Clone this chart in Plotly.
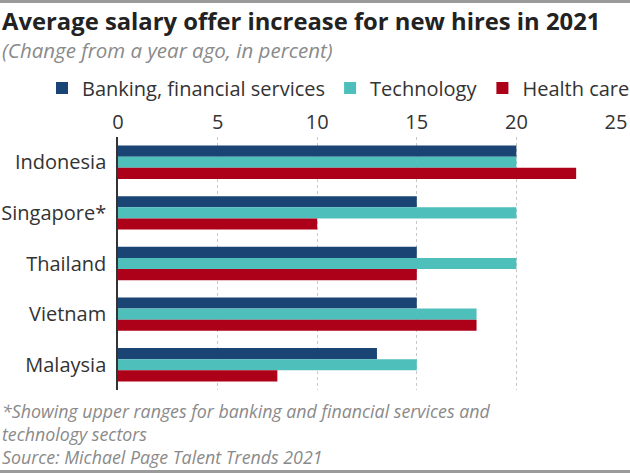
import plotly.graph_objects as go

countries = ["Indonesia", "Singapore*", "Thailand", "Vietnam", "Malaysia"]
banking = [20, 15, 15, 15, 13]
technology = [20, 20, 20, 18, 15]
health = [23, 10, 15, 18, 8]
series_names = ["Banking, financial services", "Technology", "Health care"]
colors = ["#1a4473", "#4ebfbb", "#ad0019"]
tick_vals = [0, 5, 10, 15, 20, 25]

W, H = 630, 473
L, R, T, B = 118, 14, 137, 83
PW, PH = W - L - R, H - T - B

def px(x):
    return (x - L) / PW

def py(y):
    return (H - B - y) / PH

FONT = "'Open Sans', sans-serif"

fig = go.Figure()
for name, vals, c in zip(series_names, [banking, technology, health], colors):
    fig.add_trace(go.Bar(y=countries, x=vals, name=name, orientation="h",
                         marker=dict(color=c, line=dict(width=0))))

fig.update_layout(
    width=W, height=H,
    margin=dict(l=L, r=R, t=T, b=B, autoexpand=False),
    paper_bgcolor="white", plot_bgcolor="white",
    barmode="group", bargap=0.34, bargroupgap=0,
    font=dict(family=FONT, color="#333"),
    showlegend=True,
    legend=dict(orientation="h", x=px(42), xanchor="left", y=py(88), yanchor="middle",
                font=dict(size=20, color="#333"), traceorder="normal",
                itemwidth=30, tracegroupgap=0, bgcolor="rgba(0,0,0,0)"),
    xaxis=dict(side="top", range=[0, 25.0], tickvals=tick_vals, showgrid=True,
               gridcolor="#c8c8c8", griddash="dot", gridwidth=1, zeroline=False,
               tickfont=dict(size=20, color="#333"), ticks="", ticklabelstandoff=3,
               showline=False, fixedrange=True),
    yaxis=dict(autorange="reversed", showline=True, linecolor="#333", linewidth=1.5,
               tickfont=dict(size=20, color="#333"), ticks="outside", ticklen=6,
               tickcolor="rgba(0,0,0,0)", showgrid=False, fixedrange=True),
)

fig.add_annotation(text="<b>Average salary offer increase for new hires in 2021</b>",
                   xref="paper", yref="paper", x=px(0), y=py(21), xanchor="left", yanchor="middle",
                   showarrow=False, font=dict(size=23.8, color="#222", family=FONT))
fig.add_annotation(text="<i>(Change from a year ago, in percent)</i>",
                   xref="paper", yref="paper", x=px(0), y=py(50), xanchor="left", yanchor="middle",
                   showarrow=False, font=dict(size=20.5, color="#8a8a8a", family=FONT))
footer_lines = ["*Showing upper ranges for banking and financial services and",
                "technology sectors",
                "Source: Michael Page Talent Trends 2021"]
fig.add_annotation(text="<i>" + "<br>".join(footer_lines) + "</i>",
                   xref="paper", yref="paper", x=px(0), y=py(397),
                   xanchor="left", yanchor="top",
                   align="left", showarrow=False, font=dict(size=17.8, color="#8a8a8a", family=FONT))

fig.add_shape(type="rect", xref="paper", yref="paper", x0=px(0), x1=px(W), y0=py(0), y1=py(3),
              fillcolor="#9a9a9a", line=dict(width=0), layer="above")
fig.add_shape(type="rect", xref="paper", yref="paper", x0=px(0), x1=px(W), y0=py(470), y1=py(473),
              fillcolor="#9a9a9a", line=dict(width=0), layer="above")

fig.write_html("out.html", config={"displayModeBar": False},
               post_script="document.body.style.margin='0';document.body.style.overflow='hidden';")
